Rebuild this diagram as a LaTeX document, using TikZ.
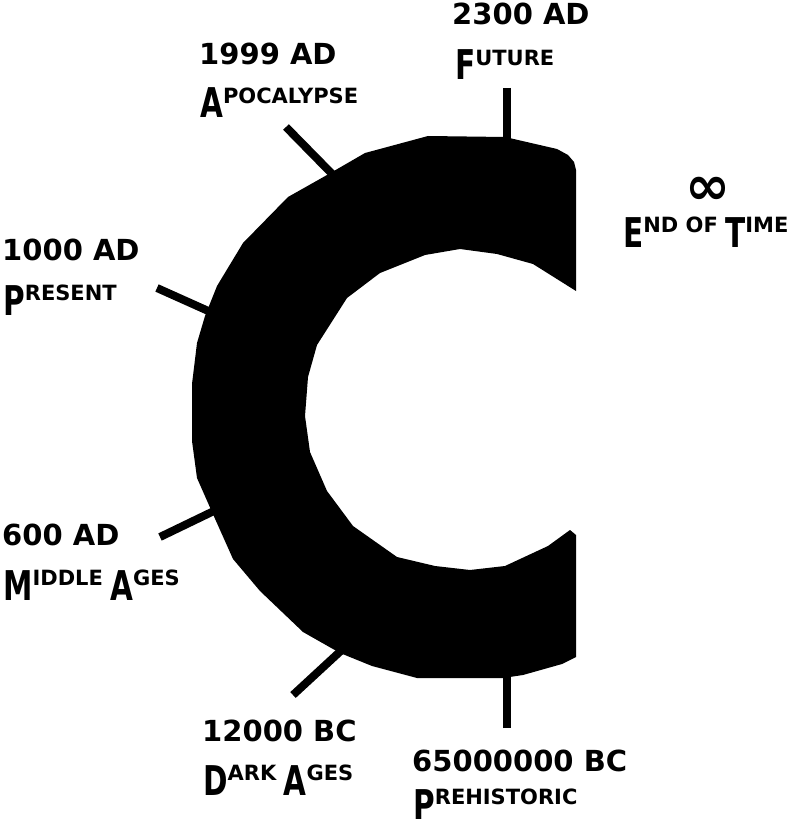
\documentclass[tikz,border=0pt]{standalone}
\usepackage{graphicx}
\usepackage{fontspec}
\setmainfont{DejaVu Sans}
\newcommand\BL[1]{\scalebox{0.72}[1]{\fontsize{41pt}{41pt}\selectfont #1}}
\newcommand\SM[1]{\raisebox{14.6pt}{\fontsize{21pt}{21pt}\selectfont #1}}
\tikzset{
  yearlbl/.style={inner sep=0pt, anchor=base west, font=\fontsize{29pt}{29pt}\selectfont\bfseries},
  eralbl/.style={inner sep=0pt, anchor=base west, font=\bfseries},
  tickline/.style={line width=8pt, black},
}
\begin{document}
\begin{tikzpicture}[x=1pt,y=-1pt]
\useasboundingbox (0,0) rectangle (795,826);
% tick coordinates
\coordinate (tF1) at (507,88);   \coordinate (tF2) at (507,150);
\coordinate (tA1) at (286,127);  \coordinate (tA2) at (340,182);
\coordinate (tP1) at (157,288);  \coordinate (tP2) at (215,314);
\coordinate (tM1) at (160,537);  \coordinate (tM2) at (218,509);
\coordinate (tD1) at (293,695);  \coordinate (tD2) at (345,647);
\coordinate (tH1) at (507,728);  \coordinate (tH2) at (507,665);
\foreach \a/\b in {tF1/tF2,tA1/tA2,tP1/tP2,tM1/tM2,tD1/tD2,tH1/tH2}
  \draw[tickline] (\a) -- (\b);
% the C
\fill[black] (428,136) -- (505,137) -- (557,149) -- (568,155) -- (574,162) -- (576,170)
  -- (576,291) -- (533,264) -- (497,254) -- (460,249) -- (425,255) -- (380,273)
  -- (347,298) -- (317,345) -- (308,377) -- (305,416) -- (310,452) -- (327,491)
  -- (353,526) -- (397,557) -- (435,566) -- (470,570) -- (505,566) -- (548,546)
  -- (570,530) -- (576,535) -- (576,657) -- (562,664) -- (523,675) -- (503,678)
  -- (417,678) -- (372,666) -- (340,653) -- (303,632) -- (260,591) -- (233,559)
  -- (212,512) -- (197,478) -- (192,441) -- (192,384) -- (197,343) -- (205,316)
  -- (217,286) -- (243,243) -- (288,197) -- (327,175) -- (365,153) -- cycle;
% labels
\node[yearlbl] (yF) at (452,25) {2300 AD};
\node[eralbl]  (nF) at (455,80) {\BL{F}\SM{UTURE}};
\node[yearlbl] (yA) at (199,65) {1999 AD};
\node[eralbl]  (nA) at (200,118) {\BL{A}\SM{POCALYPSE}};
\node[inner sep=0pt, font=\fontsize{54pt}{54pt}\selectfont\bfseries] (inf) at (708,191) {∞};
\node[eralbl]  (nE) at (623,247) {\BL{E}\SM{ND OF }\BL{T}\SM{IME}};
\node[yearlbl] (yP) at (2,260) {1000 AD};
\node[eralbl]  (nP) at (3,315) {\BL{P}\SM{RESENT}};
\node[yearlbl] (yM) at (2,545) {600 AD};
\node[eralbl]  (nM) at (3,600) {\BL{M}\SM{IDDLE }\BL{A}\SM{GES}};
\node[yearlbl] (yD) at (202,741) {12000 BC};
\node[eralbl]  (nD) at (203,795) {\BL{D}\SM{ARK }\BL{A}\SM{GES}};
\node[yearlbl] (yH) at (412,771) {65000000 BC};
\node[eralbl]  (nH) at (413,819) {\BL{P}\SM{REHISTORIC}};
\end{tikzpicture}
\end{document}
